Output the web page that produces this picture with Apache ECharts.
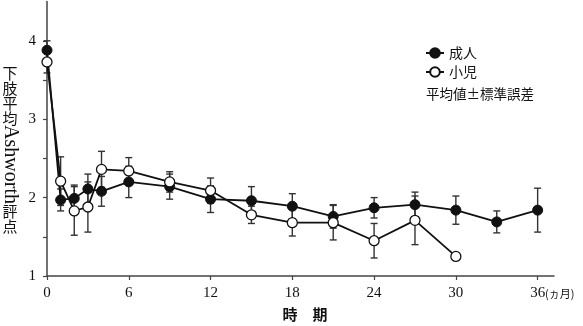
<!DOCTYPE html>
<html>
<head>
<meta charset="utf-8">
<script src="https://cdn.jsdelivr.net/npm/echarts@6/dist/echarts.min.js"></script>
<style>html,body{margin:0;padding:0;background:#fff}#c{width:583px;height:326px}</style>
</head>
<body>
<div id="c"></div>
<script>
// Data
var adultMonths = [0, 1, 2, 3, 4, 6, 9, 12, 15, 18, 21, 24, 27, 30, 33, 36];
var adultMean   = [3.88, 1.97, 1.99, 2.11, 2.08, 2.20, 2.14, 1.98, 1.96, 1.89, 1.76, 1.87, 1.91, 1.84, 1.69, 1.84];
var adultSE     = [0.12, 0.14, 0.17, 0.19, 0.19, 0.20, 0.16, 0.17, 0.18, 0.16, 0.15, 0.13, 0.16, 0.18, 0.14, 0.28];
var childMonths = [0, 1, 2, 3, 4, 6, 9, 12, 15, 18, 21, 24, 27, 30];
var childMean   = [3.73, 2.21, 1.83, 1.88, 2.36, 2.34, 2.20, 2.09, 1.78, 1.68, 1.68, 1.45, 1.71, 1.25];
var childSE     = [0.14, 0.31, 0.31, 0.32, 0.23, 0.17, 0.13, 0.16, 0.11, 0.17, 0.22, 0.22, 0.31, 0];
var xTicks = [0, 6, 12, 18, 24, 30, 36];
var yTicks = [1, 1.5, 2, 2.5, 3, 3.5, 4];
var yLabels = [1, 2, 3, 4];
var seriesNames = ['成人', '小児'];

function pairs(xs, ys) { return xs.map(function (x, i) { return [x, ys[i]]; }); }
function errData(xs, m, se) {
  var out = [];
  xs.forEach(function (x, i) { if (se[i] > 0) out.push([x, m[i] - se[i], m[i] + se[i]]); });
  return out;
}
function renderErr(params, api) {
  var x = api.value(0), lo = api.value(1), hi = api.value(2);
  var p1 = api.coord([x, hi]), p2 = api.coord([x, lo]);
  var w = 3.5;
  var st = { stroke: '#333', lineWidth: 1.4 };
  return { type: 'group', children: [
    { type: 'line', shape: { x1: p1[0], y1: p1[1], x2: p2[0], y2: p2[1] }, style: st },
    { type: 'line', shape: { x1: p1[0] - w, y1: p1[1], x2: p1[0] + w, y2: p1[1] }, style: st },
    { type: 'line', shape: { x1: p2[0] - w, y1: p2[1], x2: p2[0] + w, y2: p2[1] }, style: st }
  ]};
}

var chart = echarts.init(document.getElementById('c'), null, { renderer: 'canvas' });
var serif = '"Liberation Serif", "DejaVu Serif", serif';
var cjk = '"Noto Sans CJK JP", sans-serif';

var yTitle = [];
var cjkTop = [['下', 73], ['肢', 88], ['平', 103], ['均', 118], ['評', 211], ['点', 226]];
cjkTop.forEach(function (c) {
  yTitle.push({ type: 'text', x: 10, y: c[1], style: { text: c[0], font: '15px ' + cjk, fill: '#111', align: 'center', verticalAlign: 'middle' } });
});
yTitle.push({ type: 'text', x: 10, y: 164.5, rotation: -Math.PI / 2,
  style: { text: 'Ashworth', font: '20px ' + serif, fill: '#111', align: 'center', verticalAlign: 'middle' } });

chart.setOption({
  animation: false,
  backgroundColor: '#fff',
  grid: { left: 47, right: 29, top: 1.6, bottom: 50, containLabel: false },
  legend: {
    orient: 'vertical', left: 425, top: 46, padding: 0, itemWidth: 18, itemHeight: 12, itemGap: 5,
    data: seriesNames,
    textStyle: { fontFamily: cjk, fontSize: 14, color: '#111' }
  },
  xAxis: {
    type: 'value', min: 0, max: 37.2,
    axisLine: { lineStyle: { color: '#444', width: 1.5 } },
    axisTick: { show: true, length: 4, customValues: xTicks, lineStyle: { color: '#444', width: 1.2 } },
    axisLabel: { customValues: xTicks, margin: 10, fontFamily: serif, fontSize: 15, color: '#111' },
    splitLine: { show: false }
  },
  yAxis: {
    type: 'value', min: 1, max: 4.5,
    axisLine: { show: true, lineStyle: { color: '#444', width: 1.5 } },
    axisTick: { show: true, length: 4, customValues: yTicks, lineStyle: { color: '#444', width: 1.2 } },
    axisLabel: { customValues: yLabels, margin: 11, fontFamily: serif, fontSize: 15, color: '#111' },
    splitLine: { show: false }
  },
  graphic: yTitle.concat([
    { type: 'text', x: 305, y: 314, style: { text: '時　期', font: 'bold 15px ' + cjk, fill: '#111', align: 'center', verticalAlign: 'middle' } },
    { type: 'text', x: 545, y: 294, style: { text: '(ヵ月)', font: '11px ' + cjk, fill: '#111', align: 'left', verticalAlign: 'middle' } },
    { type: 'text', x: 426, y: 94, style: { text: '平均値±標準誤差', font: '13.5px ' + cjk, fill: '#111', align: 'left', verticalAlign: 'middle' } }
  ]),
  series: [
    { type: 'custom', name: 'errA', renderItem: renderErr, data: errData(adultMonths, adultMean, adultSE), z: 1, silent: true },
    { type: 'custom', name: 'errC', renderItem: renderErr, data: errData(childMonths, childMean, childSE), z: 1, silent: true },
    { type: 'line', name: seriesNames[0], data: pairs(adultMonths, adultMean), z: 3,
      symbol: 'circle', symbolSize: 10, showAllSymbol: true,
      lineStyle: { color: '#111', width: 1.8 }, itemStyle: { color: '#111', borderColor: '#111', borderWidth: 1 } },
    { type: 'line', name: seriesNames[1], data: pairs(childMonths, childMean), z: 4,
      symbol: 'circle', symbolSize: 10, showAllSymbol: true,
      lineStyle: { color: '#111', width: 1.8 }, itemStyle: { color: '#fff', borderColor: '#111', borderWidth: 1.3 } }
  ]
});
</script>
</body>
</html>
